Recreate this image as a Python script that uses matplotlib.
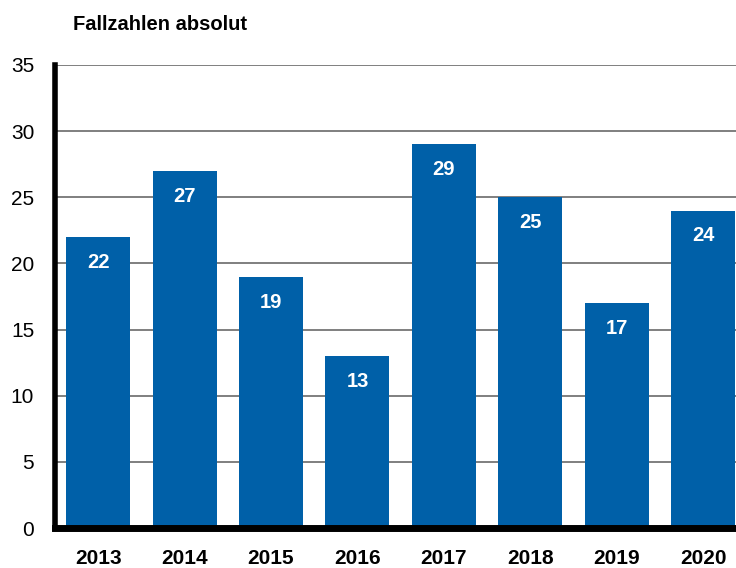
import matplotlib
matplotlib.use("Agg")
import matplotlib.pyplot as plt

years = ["2013", "2014", "2015", "2016", "2017", "2018", "2019", "2020"]
values = [22, 27, 19, 13, 29, 25, 17, 24]
yticks = [0, 5, 10, 15, 20, 25, 30, 35]

plt.rcParams['font.family'] = ['Liberation Sans', 'DejaVu Sans']

fig = plt.figure(figsize=(7.36, 5.68), dpi=100)
ax = fig.add_axes([0.0747, 0.0704, 0.9253, 0.8152])
x = list(range(len(years)))
bars = ax.bar(x, values, width=0.74, color="#0060a8", zorder=2)
for xi, v in zip(x, values):
    ax.text(xi, v - 1.2, str(v), ha="center", va="top", color="white",
            fontsize=14.5, fontweight="bold", zorder=3)

ax.set_xlim(-0.5, 7.38)
ax.set_ylim(0, 35)
ax.set_yticks(yticks)
ax.set_yticklabels([str(t) for t in yticks], fontsize=15)
ax.set_xticks(x)
ax.set_xticklabels(years, fontsize=15, fontweight="bold")
ax.tick_params(axis="both", length=0)
ax.tick_params(axis="x", pad=15)
ax.tick_params(axis="y", pad=15)
ax.yaxis.grid(True, color="#7f7f7f", linewidth=1.4, zorder=1)
ax.set_axisbelow(True)
for s in ["top", "right"]:
    ax.spines[s].set_visible(False)
ax.spines["left"].set_linewidth(4)
ax.spines["bottom"].set_linewidth(5)
ax.spines["left"].set_zorder(4)
ax.spines["bottom"].set_zorder(4)

fig.text(73/736, 1 - 25/568, "Fallzahlen absolut", fontsize=14.5, fontweight="bold",
         ha="left", va="center")

fig.savefig("out.png", dpi=100)
